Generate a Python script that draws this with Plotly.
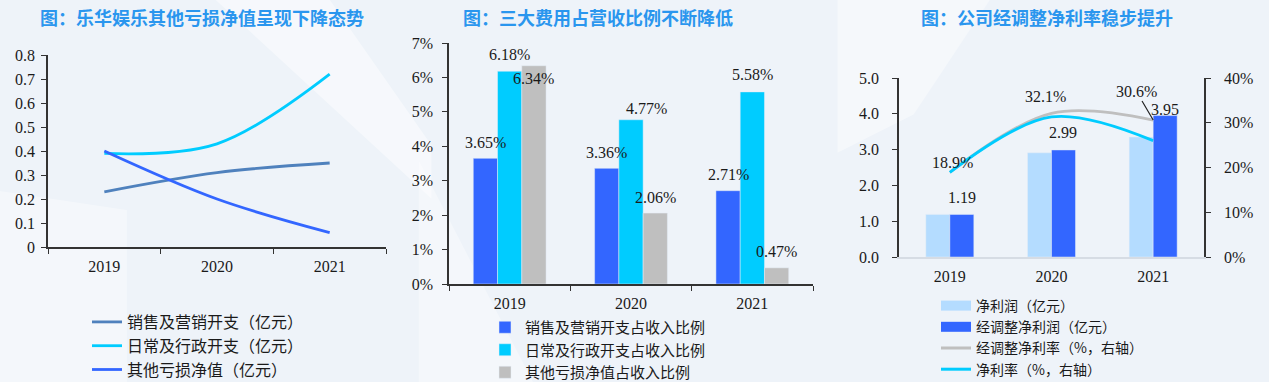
import plotly.graph_objects as go

# ---------------- data ----------------
years = ["2019", "2020", "2021"]

# chart 1 (亿元)
sales_exp = [0.23, 0.31, 0.35]
admin_exp = [0.39, 0.43, 0.72]
other_loss = [0.40, 0.20, 0.06]

# chart 2 (% of revenue)
sales_ratio = [3.65, 3.36, 2.71]
admin_ratio = [6.18, 4.77, 5.58]
other_ratio = [6.34, 2.06, 0.47]

# chart 3
net_profit = [1.19, 2.91, 3.35]
adj_net_profit = [1.19, 2.99, 3.95]
adj_margin = [18.9, 32.1, 30.6]
net_margin = [18.9, 31.3, 26.0]

titles = ["图：乐华娱乐其他亏损净值呈现下降态势",
          "图：三大费用占营收比例不断降低",
          "图：公司经调整净利率稳步提升"]

# ---------------- style ----------------
W, H = 1269, 382
SERIF = "Liberation Serif, Times New Roman, serif"
CJK = "Noto Sans CJK SC, sans-serif"
TXT = "#1a1a1a"
AX = "#333333"

C_SALES_LINE = "#4F81BD"
C_CYAN = "#00CCFF"
C_BLUE = "#3366FF"
C_GRAY = "#BFBFBF"
C_LIGHT = "#B4DCFF"

# plot areas in pixels (left, right, top, bottom)
P1 = (48, 386, 55, 247)
P2 = (449, 813, 43, 284)
P3 = (899, 1204, 78, 257)
BARGAP = 0.4

def px_x(p):
    return p / W

def px_y(p):
    return 1 - p / H

lblfont = dict(family=SERIF, size=16, color=TXT)

fig = go.Figure()

# ---- chart 1: lines ----
for name, vals, col in [("销售及营销开支（亿元）", sales_exp, C_SALES_LINE),
                        ("日常及行政开支（亿元）", admin_exp, C_CYAN),
                        ("其他亏损净值（亿元）", other_loss, C_BLUE)]:
    fig.add_trace(go.Scatter(x=years, y=vals, mode="lines", name=name,
                             line=dict(color=col, width=2.8, shape="spline", smoothing=1.0),
                             xaxis="x", yaxis="y", legend="legend", cliponaxis=False))

# ---- chart 2: grouped bars ----
ann = []
cat_px2 = (P2[1] - P2[0]) / 3
bw_px2 = cat_px2 * (1 - BARGAP) / 3
series2 = [("销售及营销开支占收入比例", sales_ratio, C_BLUE, -1, [16, 16, 16], [0, 0, 0]),
           ("日常及行政开支占收入比例", admin_ratio, C_CYAN, 0, [17, 11, 17], [0, 15, 0]),
           ("其他亏损净值占收入比例", other_ratio, C_GRAY, 1, [-13, 16, 16], [0, 0, 0])]
for name, vals, col, k, ysh, xsh in series2:
    fig.add_trace(go.Bar(x=years, y=vals, name=name, marker_color=col,
                         xaxis="x2", yaxis="y2", legend="legend2"))
    for i, v in enumerate(vals):
        ann.append(dict(x=i, y=v, xref="x2", yref="y2", text=f"{v:.2f}%",
                        showarrow=False, xshift=k * bw_px2 + xsh[i], yshift=ysh[i],
                        font=lblfont))

# ---- chart 3: bars + margin lines ----
BW3 = 0.236
cat_px3 = (P3[1] - P3[0]) / 3
fig.add_trace(go.Bar(x=years, y=net_profit, name="净利润（亿元）", marker_color=C_LIGHT,
                     width=BW3, offset=-BW3, showlegend=False, xaxis="x3", yaxis="y3"))
fig.add_trace(go.Bar(x=years, y=adj_net_profit, name="经调整净利润（亿元）", marker_color=C_BLUE,
                     width=BW3, offset=0, showlegend=False, xaxis="x3", yaxis="y3"))
for i, v in enumerate(adj_net_profit):
    ann.append(dict(x=i, y=v, xref="x3", yref="y3", text=f"{v:.2f}",
                    showarrow=False, xshift=BW3 * cat_px3 / 2, yshift=[17, 17, 6][i],
                    font=lblfont))

fig.add_trace(go.Scatter(x=years, y=adj_margin, mode="lines", name="经调整净利率（%，右轴）",
                         line=dict(color=C_GRAY, width=2.8, shape="spline", smoothing=1.0),
                         showlegend=False, xaxis="x3", yaxis="y4", cliponaxis=False))
fig.add_trace(go.Scatter(x=years, y=net_margin, mode="lines", name="净利率（%，右轴）",
                         line=dict(color=C_CYAN, width=2.8, shape="spline", smoothing=1.0),
                         showlegend=False, xaxis="x3", yaxis="y4", cliponaxis=False))
# legend entries for chart 3 (wide swatches)
for name, col, lw in [("净利润（亿元）", C_LIGHT, 10), ("经调整净利润（亿元）", C_BLUE, 10),
                      ("经调整净利率（%，右轴）", C_GRAY, 3), ("净利率（%，右轴）", C_CYAN, 3)]:
    fig.add_trace(go.Scatter(x=[None], y=[None], mode="lines", name=name,
                             line=dict(color=col, width=lw), xaxis="x3", yaxis="y3",
                             legend="legend3"))

# margin-rate labels (chart 3, right axis)
ann.append(dict(x=0, y=adj_margin[0], xref="x3", yref="y4", text=f"{adj_margin[0]:.1f}%",
                showarrow=False, yshift=10, xshift=3, font=lblfont))
ann.append(dict(x=1, y=adj_margin[1], xref="x3", yref="y4", text=f"{adj_margin[1]:.1f}%",
                showarrow=False, yshift=17, xshift=-6, font=lblfont))
ann.append(dict(x=2, y=adj_margin[2], xref="x3", yref="y4", text=f"{adj_margin[2]:.1f}%",
                showarrow=True, arrowhead=0, arrowwidth=1.2, arrowcolor="#222", ax=-17, ay=-29,
                standoff=0, font=lblfont))

for i, t in enumerate(titles):
    cx = [202, 598, 1047][i]
    ann.append(dict(x=px_x(cx), y=px_y(17), xref="paper", yref="paper", text=f"<b>{t}</b>",
                    showarrow=False, xanchor="center", yanchor="middle",
                    font=dict(family=CJK, size=18, color="#2A96EE")))

tickfont = dict(family=SERIF, size=16, color=TXT)

def xax(P, **kw):
    d = dict(domain=[px_x(P[0]), px_x(P[1])], type="category", range=[-0.5, 2.5],
             showline=True, linecolor=AX, linewidth=1.5, ticks="outside", tickson="boundaries",
             ticklen=5, tickcolor=AX, tickfont=tickfont, showgrid=False, zeroline=False,
             fixedrange=True, ticklabelstandoff=4)
    d.update(kw)
    return d

def yax(P, rng, dtick, **kw):
    d = dict(domain=[px_y(P[3]), px_y(P[2])], range=rng, dtick=dtick, showline=True,
             linecolor=AX, linewidth=1.5, ticks="outside", ticklen=5, tickcolor=AX,
             tickfont=tickfont, showgrid=False, zeroline=False, fixedrange=True)
    d.update(kw)
    return d

legend_common = dict(xanchor="left", yanchor="top", bgcolor="rgba(0,0,0,0)",
                     itemclick=False, itemdoubleclick=False)

fig.update_layout(
    width=W, height=H,
    margin=dict(l=0, r=0, t=0, b=0, autoexpand=False),
    paper_bgcolor="#EEF3F9",
    plot_bgcolor="rgba(0,0,0,0)",
    barmode="group", bargap=BARGAP, bargroupgap=0,
    showlegend=True,
    xaxis=xax(P1, anchor="y"),
    yaxis=yax(P1, [0, 0.8], 0.1, anchor="x", ticklabelstandoff=3),
    xaxis2=xax(P2, anchor="y2"),
    yaxis2=yax(P2, [0, 7], 1, anchor="x2", ticksuffix="%", ticklabelstandoff=6),
    xaxis3=xax(P3, anchor="y3", linecolor="#D6DCE4", ticks=""),
    yaxis3=yax(P3, [0, 5], 1, anchor="x3", tickformat=".1f", ticklabelstandoff=10),
    yaxis4=yax(P3, [0, 40], 10, overlaying="y3", side="right", anchor="x3",
               ticksuffix="%", ticklabelstandoff=10),
    legend=dict(x=px_x(87), y=px_y(305), font=dict(family=CJK, size=16, color=TXT),
                **legend_common),
    legend2=dict(x=px_x(485), y=px_y(311), font=dict(family=CJK, size=15, color=TXT),
                 **legend_common),
    legend3=dict(x=px_x(936), y=px_y(290), font=dict(family=CJK, size=14, color=TXT),
                 **legend_common),
    annotations=ann,
    shapes=[
        dict(type="path", xref="paper", yref="paper", layer="below", line_width=0,
             fillcolor="rgba(255,255,255,0.45)",
             path="M 0.17,1 L 0.26,1 L 0.34,0.62 L 0.34,0.48 Z"),
        dict(type="path", xref="paper", yref="paper", layer="below", line_width=0,
             fillcolor="rgba(255,255,255,0.35)",
             path="M 0,0.5 L 0.1,0.45 L 0.1,0 L 0,0 Z"),
        dict(type="path", xref="paper", yref="paper", layer="below", line_width=0,
             fillcolor="rgba(255,255,255,0.35)",
             path="M 0.33,0.58 L 0.42,0 L 0.33,0 Z"),
        dict(type="path", xref="paper", yref="paper", layer="below", line_width=0,
             fillcolor="rgba(255,255,255,0.4)",
             path="M 0.66,1 L 0.78,1 L 0.72,0.7 L 0.66,0.6 Z"),
    ],
)

fig.write_html("out.html", config={"displayModeBar": False},
               post_script="document.body.style.margin='0';document.body.style.overflow='hidden';")
